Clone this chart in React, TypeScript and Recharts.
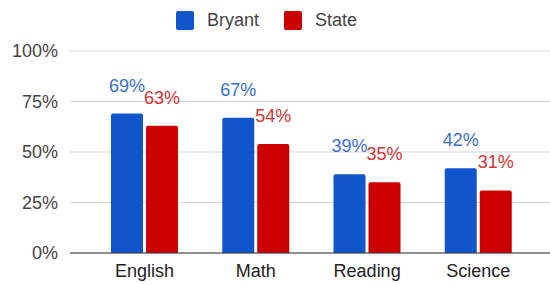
import { BarChart, Bar, XAxis, YAxis, CartesianGrid, LabelList } from 'recharts';

const subjects = ['English', 'Math', 'Reading', 'Science'];
const bryant = [69, 67, 39, 42];
const state = [63, 54, 35, 31];
const yTicks = [0, 25, 50, 75, 100];

const BLUE = '#1155cc';
const RED = '#cc0000';
const FONT = '"Liberation Sans", Arial, sans-serif';

const data = subjects.map((subject, i) => ({ subject, bryant: bryant[i], state: state[i] }));

export default function App() {
  const legendItems = [
    { name: 'Bryant', color: BLUE },
    { name: 'State', color: RED },
  ];

  return (
    <div style={{ position: 'absolute', left: 0, top: 0, width: 550, height: 284, background: '#fff', fontFamily: FONT }}>
      {/* legend */}
      <div style={{ position: 'absolute', top: 11, left: 176, display: 'flex', alignItems: 'center', fontSize: 18, color: '#444' }}>
        {legendItems.map((item, i) => (
          <div key={item.name} style={{ display: 'flex', alignItems: 'center', marginLeft: i === 0 ? 0 : 25 }}>
            <span style={{ width: 18, height: 19, background: item.color, borderRadius: 2, display: 'inline-block' }} />
            <span style={{ marginLeft: 13, lineHeight: '19px' }}>{item.name}</span>
          </div>
        ))}
      </div>

      <BarChart
        width={550}
        height={284}
        data={data}
        margin={{ top: 51, right: 0, left: 0, bottom: 1 }}
        barSize={32}
        barGap={3}
      >
        <CartesianGrid vertical={false} stroke="#d6d6d6" />
        <XAxis
          dataKey="subject"
          height={30}
          padding={{ left: 19, right: 16 }}
          tickLine={false}
          tickSize={0}
          tickMargin={11}
          axisLine={{ stroke: '#333' }}
          tick={{ fill: '#222', fontSize: 18, fontFamily: FONT }}
        />
        <YAxis
          width={70}
          domain={[0, 100]}
          ticks={yTicks}
          tickFormatter={(v: number) => `${v}%`}
          axisLine={false}
          tickLine={false}
          tickSize={0}
          tickMargin={12}
          tick={{ fill: '#444', fontSize: 18, fontFamily: FONT }}
        />
        <Bar dataKey="bryant" fill={BLUE} radius={[2, 2, 0, 0]} isAnimationActive={false}>
          <LabelList
            dataKey="bryant"
            position="top"
            offset={22}
            formatter={(v: number) => `${v}%`}
            style={{ fill: '#3a6fd6', fontSize: 18, fontFamily: FONT }}
          />
        </Bar>
        <Bar dataKey="state" fill={RED} radius={[2, 2, 0, 0]} isAnimationActive={false}>
          <LabelList
            dataKey="state"
            position="top"
            offset={22}
            formatter={(v: number) => `${v}%`}
            style={{ fill: '#d63333', fontSize: 18, fontFamily: FONT }}
          />
        </Bar>
      </BarChart>
    </div>
  );
}
